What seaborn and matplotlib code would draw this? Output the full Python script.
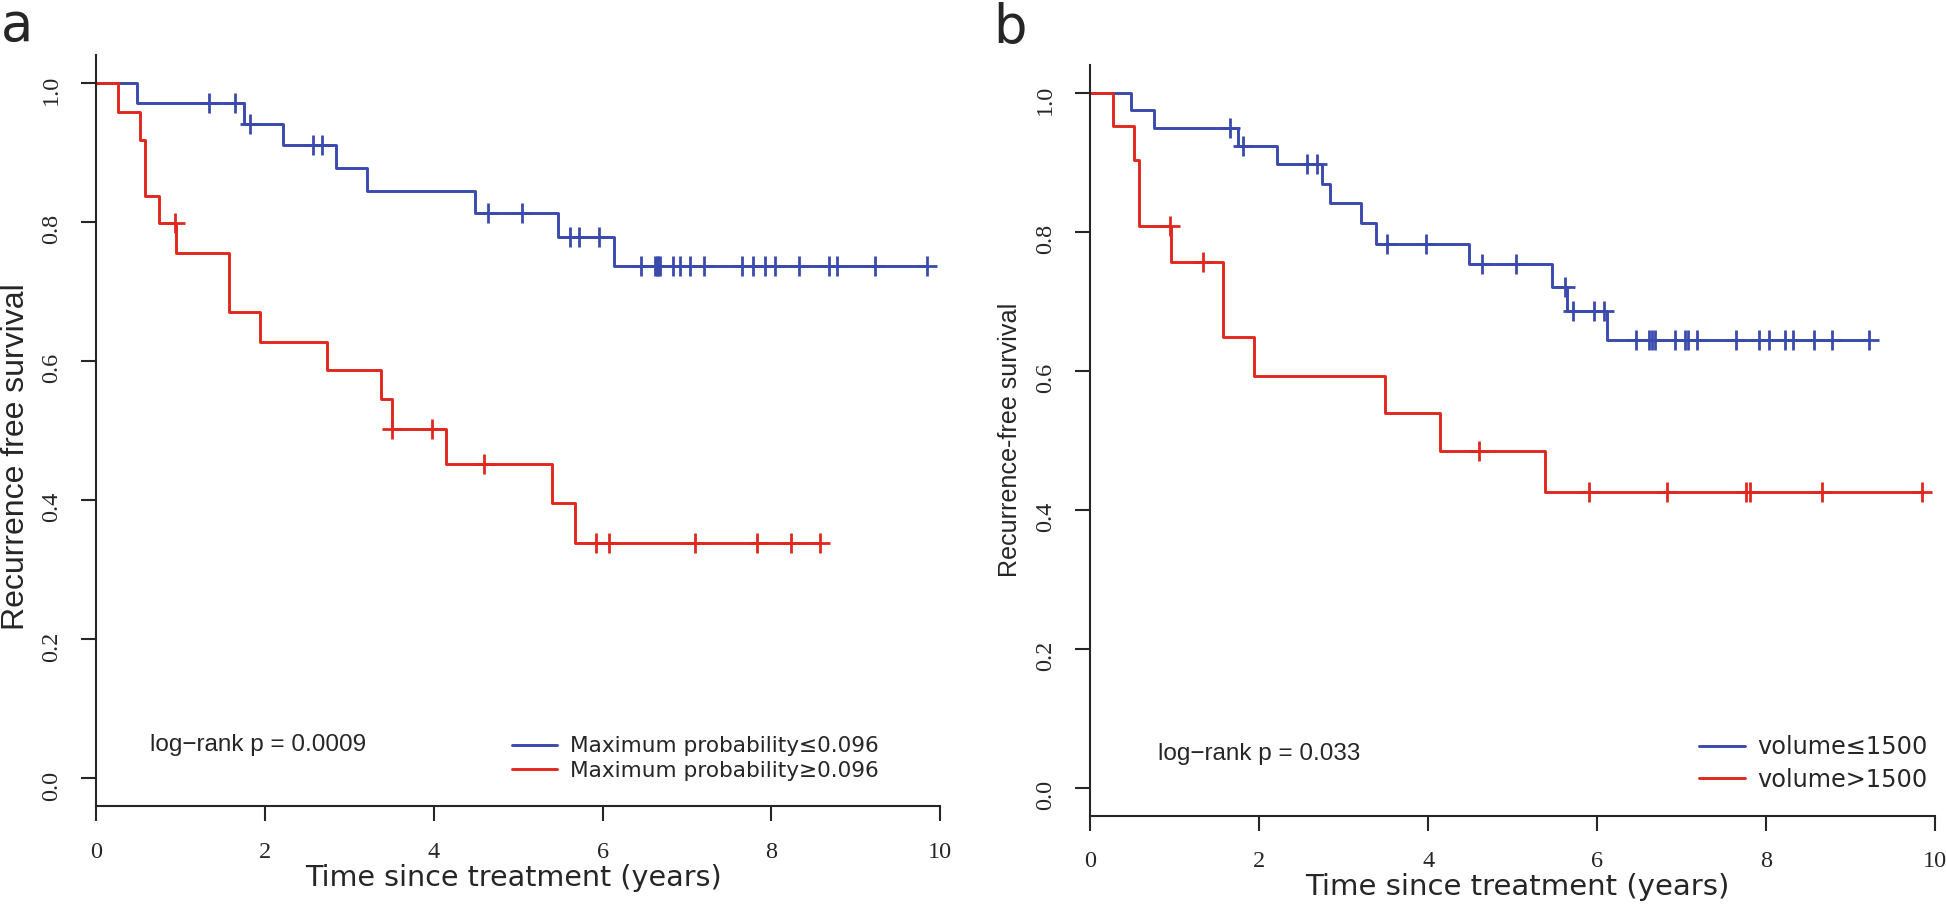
import numpy as np
import pandas as pd
import matplotlib
matplotlib.use("Agg")
import matplotlib.pyplot as plt
import seaborn as sns

# panel a: maximum probability groups
a_low_event = [0.48, 1.75, 2.22, 2.84, 3.21, 4.49, 5.47, 6.13]
a_low_surv = [0.971, 0.941, 0.911, 0.878, 0.845, 0.813, 0.778, 0.736]
a_low_cens = [1.34, 1.65, 1.82, 2.57, 2.68, 4.64, 5.04, 5.62, 5.72, 5.96,
              6.46, 6.62, 6.64, 6.66, 6.68, 6.83, 6.92, 7.04, 7.20, 7.65,
              7.78, 7.92, 8.04, 8.33, 8.68, 8.78, 9.23, 9.84]
a_high_event = [0.26, 0.52, 0.58, 0.75, 0.95, 1.58, 1.94, 2.74, 3.38, 3.50, 4.14, 5.40, 5.67]
a_high_surv = [0.958, 0.918, 0.838, 0.798, 0.756, 0.671, 0.628, 0.587, 0.545, 0.502, 0.452, 0.396, 0.339]
a_high_cens = [0.93, 3.51, 3.98, 4.60, 5.92, 6.08, 7.09, 7.83, 8.23, 8.58]
a_labels = ["Maximum probability\u22640.096", "Maximum probability\u22650.096"]
a_pval = "log\u2212rank p = 0.0009"
a_ylabel = "Recurrence free survival"

# panel b: volume groups
b_low_event = [0.48, 0.75, 1.75, 2.21, 2.74, 2.84, 3.20, 3.38, 4.49, 5.47, 5.65, 6.12]
b_low_surv = [0.975, 0.950, 0.924, 0.897, 0.869, 0.841, 0.813, 0.783, 0.753, 0.721, 0.686, 0.645]
b_low_cens = [1.65, 1.81, 2.57, 2.68, 3.51, 3.98, 4.64, 5.04, 5.62, 5.72, 5.96, 6.08,
              6.46, 6.62, 6.65, 6.69, 6.92, 7.04, 7.08, 7.19, 7.65, 7.92, 8.04, 8.23,
              8.32, 8.57, 8.78, 9.22]
b_high_event = [0.27, 0.52, 0.58, 0.96, 1.57, 1.94, 3.49, 4.14, 5.39]
b_high_surv = [0.952, 0.903, 0.808, 0.757, 0.648, 0.593, 0.539, 0.485, 0.425]
b_high_cens = [0.94, 1.34, 4.60, 5.91, 6.83, 7.76, 7.81, 8.67, 9.85]
b_labels = ["volume\u22641500", "volume>1500"]
b_pval = "log\u2212rank p = 0.033"
b_ylabel = "Recurrence-free survival"

xticks = [0, 2, 4, 6, 8, 10]
yticks = [0.0, 0.2, 0.4, 0.6, 0.8, 1.0]
xlabel = "Time since treatment (years)"

BLUE = "#3a4aad"
RED = "#e0281e"
W, H = 1946, 909

sns.set_style("ticks")


def px(x, y):
    return x / W, 1 - y / H


def km_frame(events, surv, cens):
    end = max(events[-1], cens[-1])
    return pd.DataFrame({"t": [0] + events + [end], "s": [1.0] + surv + [surv[-1]]})


def cens_frame(events, surv, cens):
    idx = np.searchsorted(events, cens, side="right")
    lv = np.concatenate([[1.0], surv])[idx]
    return pd.DataFrame({"t": cens, "s": lv})


def draw(ax, groups, labels):
    for (ev, sv, cs), col, lab in zip(groups, [BLUE, RED], labels):
        d = km_frame(ev, sv, cs)
        sns.lineplot(data=d, x="t", y="s", estimator=None, sort=False,
                     drawstyle="steps-post", color=col, lw=2.1, label=lab, ax=ax)
        c = cens_frame(ev, sv, cs)
        sns.scatterplot(data=c, x="t", y="s", marker="+", s=190, color=col,
                        linewidth=2.0, legend=False, ax=ax, zorder=3)
    ax.set_xlim(0, 10)
    ax.set_ylim(-0.04, 1.04)
    ax.set_xticks(xticks)
    ax.set_yticks(yticks)
    ax.set_xticklabels([str(v) for v in xticks])
    ax.set_yticklabels([f"{v:.1f}" for v in yticks])
    ax.set_xlabel("")
    ax.set_ylabel("")
    sns.despine(ax=ax)
    for sp in ["left", "bottom"]:
        ax.spines[sp].set_linewidth(1.5)
    ax.tick_params(length=10.5, width=1.5, labelsize=17.5)
    ax.tick_params(axis="y", labelrotation=90, pad=14)
    ax.tick_params(axis="x", pad=15)
    for t in ax.get_xticklabels() + ax.get_yticklabels():
        t.set_fontfamily("Liberation Serif")


fig = plt.figure(figsize=(W / 100, H / 100), dpi=100)
ax_a = fig.add_axes([0.04933, 0.11298, 0.43387, 0.82651])
ax_b = fig.add_axes([0.56028, 0.10264, 0.43392, 0.82585])

draw(ax_a, [(a_low_event, a_low_surv, a_low_cens),
            (a_high_event, a_high_surv, a_high_cens)], a_labels)
draw(ax_b, [(b_low_event, b_low_surv, b_low_cens),
            (b_high_event, b_high_surv, b_high_cens)], b_labels)

ax_a.legend(handles=ax_a.get_legend_handles_labels()[0], labels=a_labels,
            loc="upper left", bbox_to_anchor=px(511.7, 736.5), bbox_transform=fig.transFigure,
            frameon=False, borderpad=0, borderaxespad=0, handlelength=2.1,
            handletextpad=0.59, labelspacing=0.19,
            prop={"family": "DejaVu Sans", "size": 15.6})
ax_b.legend(handles=ax_b.get_legend_handles_labels()[0], labels=b_labels,
            loc="upper left", bbox_to_anchor=px(1699, 735), bbox_transform=fig.transFigure,
            frameon=False, borderpad=0, borderaxespad=0, handlelength=1.92,
            handletextpad=0.51, labelspacing=0.36,
            prop={"family": "DejaVu Sans", "size": 17.3})

# p-values
fig.text(*px(150, 750.7), a_pval, family="Liberation Sans", fontsize=17.5, ha="left", va="baseline")
fig.text(*px(1158, 760), b_pval, family="Liberation Sans", fontsize=17.5, ha="left", va="baseline")

# axis titles
fig.text(*px(513, 878), xlabel, family="DejaVu Sans", fontsize=20.6, ha="center", va="center")
fig.text(*px(1517, 887), xlabel, family="DejaVu Sans", fontsize=21, ha="center", va="center")
fig.text(*px(16, 457), a_ylabel, family="Liberation Sans", fontsize=23, rotation=90,
         ha="center", va="center")
fig.text(*px(1010, 440), b_ylabel, family="Liberation Sans", fontsize=18.1, rotation=90,
         ha="center", va="center")

# panel letters
fig.text(*px(1, 41), "a", family="DejaVu Sans", fontsize=38, ha="left", va="baseline")
fig.text(*px(993, 43), "b", family="DejaVu Sans", fontsize=38, ha="left", va="baseline")

fig.savefig("out.png", dpi=100)
